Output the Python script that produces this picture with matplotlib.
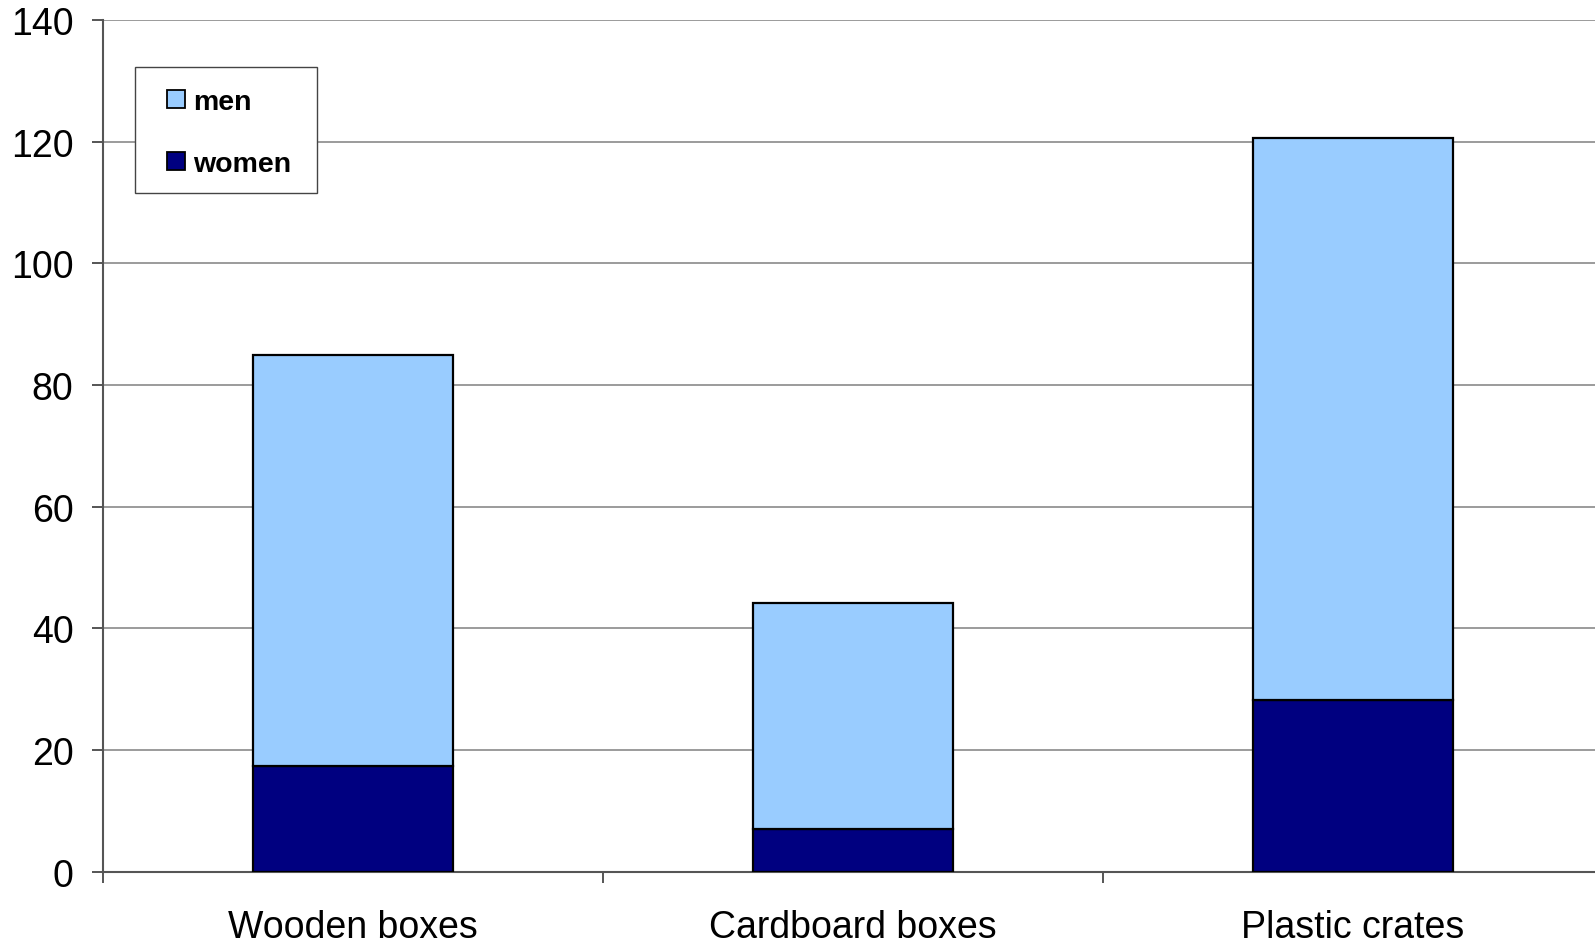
import matplotlib
matplotlib.use("Agg")
import matplotlib.pyplot as plt
from matplotlib.patches import Patch, Rectangle
from matplotlib.legend_handler import HandlerPatch
from matplotlib.path import Path

categories = ["Wooden boxes", "Cardboard boxes", "Plastic crates"]
women = [17.4, 7.0, 28.2]
men = [67.6, 37.1, 92.4]
yticks = [0, 20, 40, 60, 80, 100, 120, 140]

plt.rcParams['font.family'] = ['Liberation Sans', 'DejaVu Sans']

W, H = 1595, 945
fig = plt.figure(figsize=(W / 100, H / 100), dpi=100)
ax = fig.add_axes([102.7 / W, (H - 872.7) / H, 1500 / W, 851.7 / H])

x = list(range(len(categories)))
ax.bar(x, women, width=0.4, color="#000080", edgecolor="black", linewidth=1.6, zorder=3)
ax.bar(x, men, width=0.4, bottom=women, color="#99CCFF", edgecolor="black", linewidth=1.6, zorder=3)

ax.set_xlim(-0.5, 2.5)
ax.set_ylim(0, 140)
ax.set_yticks(yticks)
ax.set_yticklabels([str(v) for v in yticks])
ax.yaxis.grid(True, color="#808080", linewidth=1.1, zorder=0)
ax.set_axisbelow(True)

ax.set_xticks(x)
ax.set_xticklabels(categories)
ax.set_xticks([-0.5, 0.5, 1.5, 2.5], minor=True)
ax.tick_params(axis='x', which='major', length=0, pad=26.5, labelsize=27)
ax.tick_params(axis='x', which='minor', length=8, width=1.4, color="#555555", direction='out')
ax.tick_params(axis='y', length=8, width=1.4, color="#555555", labelsize=27, pad=13)

for s in ['top', 'right']:
    ax.spines[s].set_visible(False)
for s in ['left', 'bottom']:
    ax.spines[s].set_color("#555555")
    ax.spines[s].set_linewidth(1.5)
ax.spines['left'].set_bounds(0, 140)

FS = 20.5
SQ = 18.3 / (FS * 100 / 72)  # square size in em


def square_patch(legend, orig_handle, xdescent, ydescent, width, height, fontsize):
    s = SQ * fontsize
    return Rectangle((-xdescent + width - s, -ydescent + (height - s) / 2), s, s)


class PadBox:
    """Legend frame that adds extra room on the top and right."""
    def __init__(self, top, right):
        self.top = top
        self.right = right

    def __call__(self, x0, y0, width, height, mutation_size):
        x1 = x0 + width + self.right
        y1 = y0 + height + self.top
        return Path([(x0, y0), (x1, y0), (x1, y1), (x0, y1), (x0, y0)], closed=True)


TOP_EXTRA = 6
handles = [Patch(facecolor="#99CCFF", edgecolor="black", linewidth=1.3, label="men"),
           Patch(facecolor="#000080", edgecolor="black", linewidth=1.3, label="women")]
leg = ax.legend(handles=handles, loc='upper left',
                bbox_to_anchor=((135.3 - 102.7) / 1500, (872.7 - 68.2 - TOP_EXTRA) / 851.7),
                borderaxespad=0, fancybox=False, framealpha=1, edgecolor="#444444",
                prop={'weight': 'bold', 'size': FS}, handlelength=1.19, handleheight=0.7,
                handletextpad=0.29, labelspacing=1.27, borderpad=0.56,
                handler_map={Patch: HandlerPatch(patch_func=square_patch)})
leg.get_frame().set_boxstyle(PadBox(TOP_EXTRA, 10))
leg.get_frame().set_linewidth(1.0)
leg.set_zorder(5)

fig.savefig("out.png", dpi=100)
